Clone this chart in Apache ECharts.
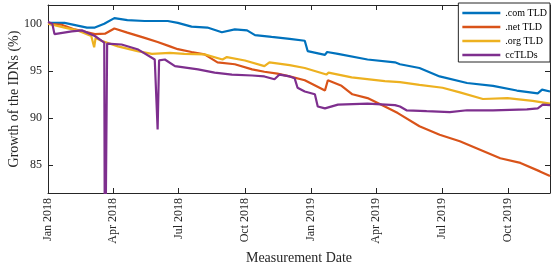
<!DOCTYPE html>
<html>
<head>
    <meta charset="utf-8"/>
    <style>
        html, body {
            height: 100%;
            margin: 0;
            padding: 0;
            background: #fff;
        }

        .container {
            width: 551px;
            height: 266px;
        }
    </style>
</head>

<body>
<div id="main" class="container"></div>
<script src="https://cdn.jsdelivr.net/npm/echarts@6/dist/echarts.min.js"></script>
<script type="text/javascript">
// tick positions and labels
var xTickDates = ['2018-01-01', '2018-04-01', '2018-07-01', '2018-10-01',
    '2019-01-01', '2019-04-01', '2019-07-01', '2019-10-01'];
var xTickLabels = ['Jan 2018', 'Apr 2018', 'Jul 2018', 'Oct 2018',
    'Jan 2019', 'Apr 2019', 'Jul 2019', 'Oct 2019'];
var yTicks = [85, 90, 95, 100];

var seriesNames = ['.com TLD', '.net TLD', '.org TLD', 'ccTLDs'];
var seriesColors = ['#0072BD', '#D95319', '#EDB120', '#7E2F8E'];

// [date, growth %]
var comData = [
    ['2018-01-01', 100.1], ['2018-01-24', 100.1], ['2018-02-24', 99.6], ['2018-03-07', 99.6],
    ['2018-03-20', 100.0], ['2018-04-03', 100.6], ['2018-04-21', 100.4], ['2018-05-15', 100.3],
    ['2018-06-16', 100.3], ['2018-06-30', 100.1], ['2018-07-19', 99.7], ['2018-08-10', 99.6],
    ['2018-08-30', 99.1], ['2018-09-17', 99.4], ['2018-10-04', 99.3], ['2018-10-15', 98.8],
    ['2018-11-07', 98.6], ['2018-12-02', 98.4], ['2018-12-23', 98.2], ['2018-12-27', 97.1],
    ['2019-01-20', 96.7], ['2019-01-23', 97.0], ['2019-02-07', 96.8], ['2019-03-20', 96.2],
    ['2019-04-27', 95.9], ['2019-05-04', 95.7], ['2019-05-31', 95.3], ['2019-06-28', 94.4],
    ['2019-08-05', 93.7], ['2019-09-10', 93.4], ['2019-10-13', 92.9], ['2019-11-11', 92.6],
    ['2019-11-17', 93.0], ['2019-11-28', 92.8]
];
var netData = [
    ['2018-01-01', 100.0], ['2018-01-20', 99.9], ['2018-02-07', 99.4], ['2018-03-07', 98.9],
    ['2018-03-21', 98.95], ['2018-04-03', 99.5], ['2018-04-21', 99.06], ['2018-05-15', 98.5],
    ['2018-06-02', 98.06], ['2018-06-19', 97.6], ['2018-06-30', 97.3], ['2018-07-19', 97.0],
    ['2018-08-06', 96.75], ['2018-08-24', 95.9], ['2018-09-17', 95.7], ['2018-10-11', 95.15],
    ['2018-10-28', 94.9], ['2018-11-15', 94.7], ['2018-12-02', 94.4], ['2018-12-23', 94.0],
    ['2019-01-20', 92.9], ['2019-01-24', 94.0], ['2019-02-12', 93.4], ['2019-02-27', 92.5],
    ['2019-03-20', 92.1], ['2019-04-13', 91.2], ['2019-05-01', 90.5], ['2019-05-31', 89.1],
    ['2019-06-28', 88.2], ['2019-07-26', 87.5], ['2019-08-23', 86.6], ['2019-09-20', 85.7],
    ['2019-10-18', 85.2], ['2019-11-14', 84.3], ['2019-11-28', 83.8]
];
var orgData = [
    ['2018-01-01', 100.0], ['2018-01-24', 99.6], ['2018-02-11', 99.3], ['2018-03-02', 98.7],
    ['2018-03-06', 97.5], ['2018-03-08', 98.5], ['2018-03-16', 98.2], ['2018-04-08', 97.6],
    ['2018-05-05', 97.1], ['2018-05-25', 96.8], ['2018-06-19', 96.9], ['2018-07-09', 96.8],
    ['2018-08-06', 96.75], ['2018-08-31', 96.2], ['2018-09-06', 96.46], ['2018-10-01', 96.1],
    ['2018-10-28', 95.5], ['2018-11-04', 95.9], ['2018-12-02', 95.6], ['2018-12-23', 95.3],
    ['2019-01-22', 94.6], ['2019-01-25', 94.8], ['2019-02-26', 94.3], ['2019-04-13', 93.9],
    ['2019-05-04', 93.8], ['2019-05-31', 93.5], ['2019-07-02', 93.2], ['2019-07-26', 92.7],
    ['2019-08-27', 92.0], ['2019-09-30', 92.1], ['2019-11-04', 91.8], ['2019-11-28', 91.5]
];
var ccData = [
    ['2018-01-01', 100.2], ['2018-01-07', 100.0], ['2018-01-10', 98.9], ['2018-02-03', 99.2],
    ['2018-02-17', 99.3], ['2018-03-07', 98.7], ['2018-03-20', 98.0], ['2018-03-21', 70.0],
    ['2018-03-23', 70.0], ['2018-03-24', 97.9], ['2018-04-13', 97.8], ['2018-05-05', 97.3],
    ['2018-05-29', 96.2], ['2018-06-02', 88.75], ['2018-06-04', 96.1], ['2018-06-12', 96.2],
    ['2018-06-26', 95.5], ['2018-07-28', 95.15], ['2018-08-20', 94.8], ['2018-09-13', 94.6],
    ['2018-10-11', 94.5], ['2018-10-28', 94.4], ['2018-11-11', 94.1], ['2018-11-18', 94.6],
    ['2018-12-02', 94.4], ['2018-12-09', 94.2], ['2018-12-13', 93.2], ['2018-12-23', 92.8],
    ['2019-01-06', 92.5], ['2019-01-10', 91.2], ['2019-01-20', 91.0], ['2019-02-07', 91.4],
    ['2019-03-20', 91.5], ['2019-04-27', 91.35], ['2019-05-04', 91.2], ['2019-05-13', 90.8],
    ['2019-06-10', 90.7], ['2019-07-12', 90.6], ['2019-08-05', 90.8], ['2019-09-10', 90.8],
    ['2019-10-27', 90.9], ['2019-11-11', 91.0], ['2019-11-18', 91.4], ['2019-11-28', 91.35]
];

var allData = [comData, netData, orgData, ccData];

var myChart = echarts.init(document.getElementById('main'));
var axisColor = '#262626';
var fontFamily = 'Liberation Serif';

function toTime(d) {
    return echarts.time.parse(d).getTime();
}

var xMin = toTime('2018-01-01');
var xMax = toTime('2019-11-28');
var xTickValues = xTickDates.map(toTime);

function xAxisBase(pos, showLabel) {
    return {
        type: 'value',
        position: pos,
        min: xMin,
        max: xMax,
        axisLine: {show: true, onZero: false, lineStyle: {color: axisColor, width: 1}},
        axisTick: {show: true, inside: true, length: 5, customValues: xTickValues,
            lineStyle: {color: axisColor}},
        axisLabel: {
            show: showLabel,
            customValues: xTickValues,
            rotate: 90,
            margin: 5,
            color: axisColor,
            fontFamily: fontFamily,
            fontSize: 12,
            formatter: function (val) {
                var i = xTickValues.indexOf(val);
                return i >= 0 ? xTickLabels[i] : '';
            }
        },
        splitLine: {show: false}
    };
}

function yAxisBase(pos, showLabel) {
    return {
        type: 'value',
        position: pos,
        min: 82,
        max: 102,
        axisLine: {show: true, onZero: false, lineStyle: {color: axisColor, width: 1}},
        axisTick: {show: true, inside: true, length: 5, customValues: yTicks,
            lineStyle: {color: axisColor}},
        axisLabel: {
            show: showLabel,
            customValues: yTicks,
            margin: 6,
            color: axisColor,
            fontFamily: fontFamily,
            fontSize: 12
        },
        splitLine: {show: false}
    };
}

var xBottom = xAxisBase('bottom', true);
xBottom.name = 'Measurement Date';
xBottom.nameLocation = 'middle';
xBottom.nameGap = 54;
xBottom.nameTextStyle = {color: axisColor, fontFamily: fontFamily, fontSize: 14};

var yLeft = yAxisBase('left', true);
yLeft.name = 'Growth of the IDNs (%)';
yLeft.nameLocation = 'middle';
yLeft.nameGap = 27;
yLeft.nameMoveOverlap = false;
yLeft.nameTextStyle = {color: axisColor, fontFamily: fontFamily, fontSize: 14};

var option = {
    animation: false,
    backgroundColor: '#fff',
    grid: {left: 48, right: 1, top: 5, bottom: 73, containLabel: false, outerBoundsMode: 'none'},
    legend: {
        orient: 'vertical',
        right: 1,
        top: 3,
        padding: [3, 3, 0, 4],
        backgroundColor: '#fff',
        borderColor: '#262626',
        borderWidth: 1,
        icon: 'rect',
        itemWidth: 38,
        itemHeight: 2.5,
        itemGap: 0,
        textStyle: {color: '#000', fontFamily: fontFamily, fontSize: 10, lineHeight: 14},
        data: seriesNames
    },
    xAxis: [xBottom, xAxisBase('top', false)],
    yAxis: [yLeft, yAxisBase('right', false)],
    series: []
};

for (var i = 0; i < allData.length; i++) {
    option.series.push({
        name: seriesNames[i],
        type: 'line',
        xAxisIndex: 0,
        yAxisIndex: 0,
        showSymbol: false,
        symbol: 'none',
        clip: true,
        color: seriesColors[i],
        lineStyle: {width: 2.2, color: seriesColors[i]},
        data: allData[i].map(function (p) { return [toTime(p[0]), p[1]]; })
    });
}

myChart.setOption(option);
</script>
</body>
</html>
